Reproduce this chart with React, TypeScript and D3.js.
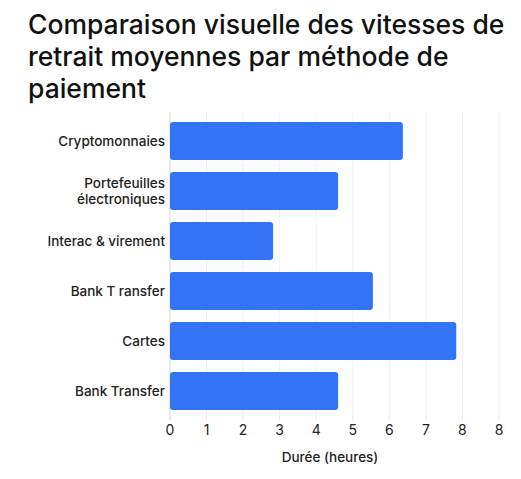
import React from "react";
import * as d3 from "d3";

const categories = [
  "Cryptomonnaies",
  "Portefeuilles électroniques",
  "Interac & virement",
  "Bank T ransfer",
  "Cartes",
  "Bank Transfer",
];
const values = [6.37, 4.6, 2.82, 5.55, 7.83, 4.6];
const tickValues = [0, 1, 2, 3, 4, 5, 6, 7, 8, 9];
const tickLabels = ["0", "1", "2", "3", "4", "5", "6", "7", "8", "8"];
const labelLines: Record<string, string[]> = {
  "Portefeuilles électroniques": ["Portefeuilles", "électroniques"],
};
const titleLines = [
  "Comparaison visuelle des vitesses de",
  "retrait moyennes par méthode de",
  "paiement",
];
const xTitle = "Durée (heures)";

export default function App() {
  const W = 521, H = 479;
  const left = 170, right = 499, top = 116, bottom = 416;
  const x = d3.scaleLinear().domain([0, 9]).range([left, right]);
  const y = d3.scaleBand<string>().domain(categories).range([top, bottom]).paddingInner(0.24).paddingOuter(0.12);
  const font = "Inter, 'Liberation Sans', Arial, sans-serif";
  return (
    <svg width={W} height={H} style={{ position: "absolute", left: 0, top: 0, background: "#fff" }}>
      {titleLines.map((t, i) => (
        <text key={i} x={28} y={34 + i * 32} fontSize={26.5} fontWeight={500} fill="#111" fontFamily={font}>{t}</text>
      ))}
      {tickValues.map((t, i) => (
        <g key={i}>
          <line x1={x(t)} x2={x(t)} y1={112} y2={bottom} stroke="#eef0f3" strokeWidth={1} />
          <line x1={x(t)} x2={x(t)} y1={bottom} y2={bottom + 4} stroke="#e6e8eb" strokeWidth={1} />
          <text x={x(t)} y={435} textAnchor="middle" fontSize={14} fill="#222" fontFamily={font}>{tickLabels[i]}</text>
        </g>
      ))}
      <line x1={left} x2={left} y1={112} y2={bottom + 4} stroke="#d8dce2" strokeWidth={1} />
      {categories.map((c, i) => (
        <rect key={c} x={x(0)} y={y(c)!} width={x(values[i]) - x(0)} height={y.bandwidth()} rx={3} fill="#3373f6" />
      ))}
      {categories.map((c) => {
        const lines = labelLines[c] || [c];
        const cy = y(c)! + y.bandwidth() / 2;
        return (
          <text key={c} x={165} textAnchor="end" fontSize={13.5} fontWeight={500} fill="#222" fontFamily={font}>
            {lines.map((l, j) => (
              <tspan key={j} x={165} y={cy + 5 + (j - (lines.length - 1) / 2) * 16}>{l}</tspan>
            ))}
          </text>
        );
      })}
      <text x={330} y={462} textAnchor="middle" fontSize={13.5} fontWeight={500} fill="#222" fontFamily={font}>{xTitle}</text>
    </svg>
  );
}
